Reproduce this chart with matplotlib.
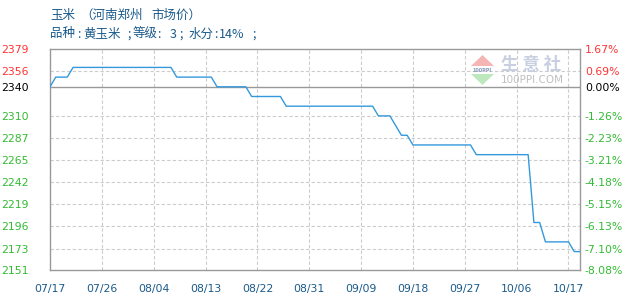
import matplotlib
matplotlib.use("Agg")
import matplotlib.pyplot as plt
from matplotlib.patches import Polygon
import numpy as np

plt.rcParams['font.family'] = ['DejaVu Sans', 'Noto Sans CJK SC']

title_parts = ["玉米", "（河南郑州", "市场价）"]
subtitle_parts = ["品种", ":", "黄玉米", ";", "等级", ":", "3", ";", "水分", ":", "14%", ";"]

# price series (one value per trading day)
prices = ([2340] + [2350] * 3 + [2360] * 18 + [2350] * 7 + [2340] * 6 +
          [2330] * 6 + [2320] * 16 + [2310] * 3 + [2300] + [2290] * 2 +
          [2280] * 11 + [2270] * 10 + [2200] * 2 + [2180] * 5 + [2170] * 2)

base = 2340
y_ticks = [2379, 2356, 2340, 2310, 2287, 2265, 2242, 2219, 2196, 2173, 2151]
pct_labels = ["1.67%", "0.69%", "0.00%", "-1.26%", "-2.23%", "-3.21%", "-4.18%",
              "-5.15%", "-6.13%", "-7.10%", "-8.08%"]
x_tick_idx = [0, 9, 18, 27, 36, 45, 54, 63, 72, 81, 90]
x_tick_labels = ["07/17", "07/26", "08/04", "08/13", "08/22", "08/31",
                 "09/09", "09/18", "09/27", "10/06", "10/17"]

RED = "#ff3333"
GREEN = "#33bb33"
BLUE_TXT = "#1a5a8a"
LINE = "#3399dd"
GRID = "#cccccc"
AX = "#999999"

fig = plt.figure(figsize=(6.3, 3.0), dpi=100)
ax = fig.add_axes([50 / 630, 30 / 300, 530 / 630, 221 / 300])

x = np.arange(len(prices))
ax.plot(x, prices, color=LINE, lw=1.0, zorder=3)

ax.set_xlim(0, 92)
ax.set_ylim(min(y_ticks), max(y_ticks))

for yt in y_ticks:
    if yt == base:
        ax.axhline(yt, color=AX, lw=1.0, zorder=2)
    elif yt not in (min(y_ticks), max(y_ticks)):
        ax.axhline(yt, color=GRID, lw=0.8, ls=(0, (3, 2)), zorder=1)
for xt in x_tick_idx[1:]:
    ax.axvline(xt, color=GRID, lw=0.8, ls=(0, (3, 2)), zorder=1)

for s in ax.spines.values():
    s.set_color(AX)
    s.set_linewidth(1.0)

def col(v):
    return RED if v > base else ("black" if v == base else GREEN)

ax.set_yticks(y_ticks)
ax.set_yticklabels([str(v) for v in y_ticks], fontsize=7.8)
for lab, v in zip(ax.get_yticklabels(), y_ticks):
    lab.set_color(col(v))
ax.tick_params(axis='y', length=0, pad=15.5)

ax2 = ax.twinx()
ax2.set_ylim(ax.get_ylim())
ax2.set_yticks(y_ticks)
ax2.set_yticklabels(pct_labels, fontsize=7.8)
for lab, v in zip(ax2.get_yticklabels(), y_ticks):
    lab.set_color(col(v))
ax2.tick_params(axis='y', length=0, pad=3.5)
for s in ax2.spines.values():
    s.set_visible(False)

ax.set_xticks(x_tick_idx)
ax.set_xticklabels(x_tick_labels, fontsize=7.8, color=BLUE_TXT)
ax.tick_params(axis='x', length=0, pad=10)

cjk = ['Noto Sans CJK SC', 'DejaVu Sans']

def fx(px):
    return px / 630
def fy(py):
    return 1 - py / 300

for txt, px in zip(title_parts, [50, 80, 151]):
    fig.text(fx(px), fy(15), txt, fontsize=9, color=BLUE_TXT,
             family=cjk, va='center', ha='left')
for txt, px in zip(subtitle_parts, [50, 77, 83, 127, 133, 157, 170, 179, 189, 214, 219, 252]):
    fig.text(fx(px), fy(34), txt, fontsize=9, color=BLUE_TXT,
             family=cjk, va='center', ha='left')

# watermark
fig.patches.append(Polygon([(fx(471), fy(66)), (fx(494), fy(66)), (fx(482.5), fy(55))],
                           closed=True, transform=fig.transFigure,
                           facecolor="#f5b5b5", edgecolor='none', zorder=0))
fig.patches.append(Polygon([(fx(471), fy(74)), (fx(494), fy(74)), (fx(482.5), fy(85))],
                           closed=True, transform=fig.transFigure,
                           facecolor="#bde8bd", edgecolor='none', zorder=0))
fig.text(fx(482.5), fy(70), "100PPI", fontsize=3.5, color="#8899bb",
         ha='center', va='center', weight='bold')
fig.text(fx(531), fy(65), "生 意 社", fontsize=12.5, color="#c8cfe0",
         family=cjk, ha='center', va='center', weight='bold')
fig.text(fx(532), fy(80), "100PPI.COM", fontsize=7.5, color="#c0c0c0",
         ha='center', va='center')

fig.savefig("out.png", dpi=100)
